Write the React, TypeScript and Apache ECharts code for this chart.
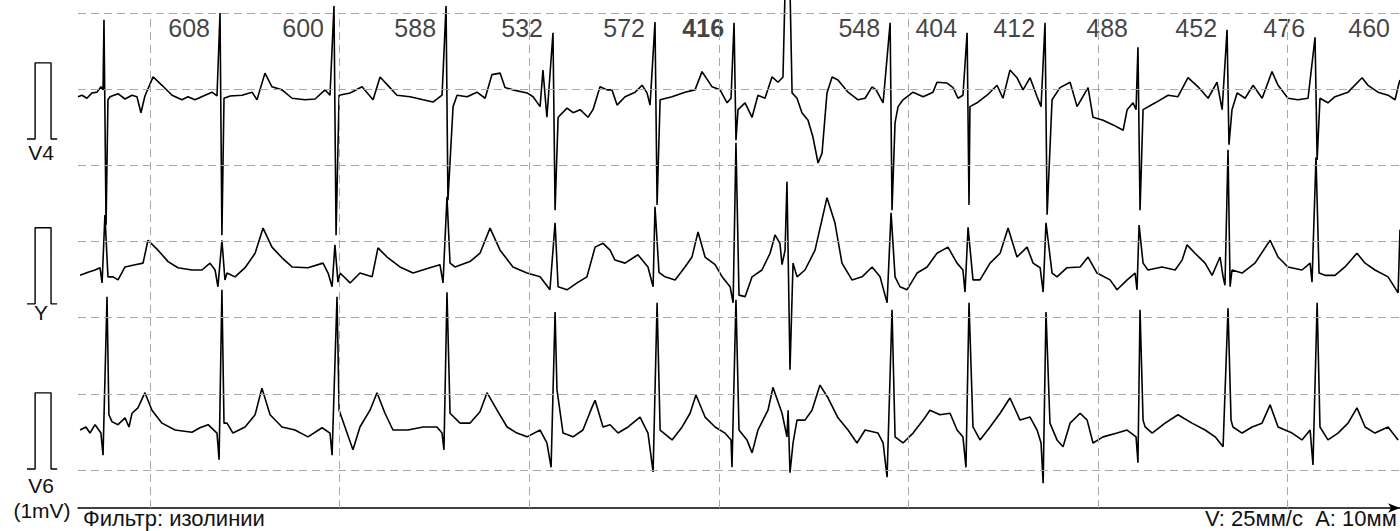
import React, { useEffect, useRef } from "react";
import * as echarts from "echarts";

// ---- data (time in ms from the left edge of the strip, amplitude in mV relative to the lead baseline)
const LEAD_V4: [number, number][] = [
  [0,-0.01],[21,0.01],[47,-0.03],[74,0.04],[100,0.05],[121,0.12],[132,0.08],[137,1.0],[148,-1.69],[158,-0.05],[169,-0.01],[211,0.03],[248,-0.04],[285,0.01],[311,-0.01],[332,-0.22],[353,0],[396,0.25],[443,0.14],[496,0.01],[548,-0.05],[580,-0.01],[617,-0.05],[670,0.01],[707,0.05],[733,0],
  [749,1.09],[759,-1.83],[770,-0.03],[802,0],[865,0.01],[918,0.05],[944,-0.05],[986,0.30],[1023,0.12],[1076,0.08],[1129,-0.03],[1197,-0.05],[1250,-0.04],[1303,0.08],[1329,0.01],
  [1350,1.18],[1361,-1.83],[1377,0.01],[1435,0.04],[1498,0.12],[1556,-0.05],[1593,0.25],[1645,0.11],[1682,0.01],[1751,-0.01],[1820,-0.05],[1872,-0.08],[1920,0.01],
  [1941,1.18],[1951,-1.37],[1978,-0.14],[1999,0.01],[2052,-0.01],[2104,0.05],[2147,-0.03],[2183,0.28],[2226,0.30],[2252,0.11],[2294,0.08],[2368,0.04],[2400,-0.01],[2437,-0.14],[2452,0.34],[2473,-0.28],
  [2505,0.83],[2516,-1.50],[2532,-0.28],[2579,-0.16],[2611,-0.22],[2648,-0.18],[2690,-0.28],[2716,-0.18],[2753,0.12],[2790,0.08],[2816,0.08],[2843,-0.12],[2885,-0.01],[2938,0.05],[2975,0.14],[3001,0.04],[3017,-0.12],
  [3043,0.97],[3054,-1.43],[3070,-0.05],[3133,-0.01],[3201,0.05],[3254,0.08],[3291,0.32],[3344,0.12],[3386,0.08],[3423,-0.09],[3444,-0.03],
  [3460,0.96],[3470,-0.58],[3481,-0.18],[3518,-0.09],[3555,-0.28],[3586,0.01],[3623,-0.03],[3660,0.25],[3692,0.18],[3718,0.25],
  [3729,1.4],[3755,1.4],[3766,0.04],[3792,-0.03],[3818,-0.22],[3850,-0.32],[3876,-0.54],[3903,-0.88],[3924,-0.75],[3950,0.04],[3977,0.25],[4008,0.21],[4061,0.05],[4114,-0.05],[4151,-0.03],[4188,0.12],[4209,0.08],[4246,-0.09],
  [4283,0.96],[4293,-1.50],[4309,-0.35],[4325,-0.14],[4351,-0.05],[4404,0.05],[4457,-0.01],[4509,0.05],[4530,0.18],[4583,0.17],[4615,0.11],[4641,-0.03],[4667,0.01],
  [4689,0.83],[4699,-1.43],[4704,-0.14],[4741,-0.09],[4794,0.01],[4847,0.14],[4878,-0.03],[4915,0.34],[4952,0.24],[4984,0.08],[5021,0.24],[5058,-0.01],[5079,-0.14],
  [5100,0.96],[5111,-1.56],[5137,-0.05],[5179,0.11],[5232,0.18],[5269,-0.14],[5327,0.11],[5353,-0.28],[5406,-0.32],[5459,-0.38],[5512,-0.45],[5533,-0.18],[5564,-0.09],[5580,-0.18],
  [5590,0.64],[5601,-1.50],[5617,-0.18],[5681,-0.09],[5749,0.01],[5801,-0.01],[5854,0.24],[5907,0.12],[5960,-0.03],[6007,0.18],[6034,-0.18],
  [6060,0.87],[6070,-0.64],[6086,-0.18],[6113,0.04],[6155,-0.03],[6197,0.14],[6245,-0.03],[6297,0.32],[6329,0.14],[6381,-0.03],[6434,-0.05],[6487,-0.03],
  [6524,0.77],[6535,-0.84],[6550,-0.03],[6592,-0.09],[6629,-0.01],[6698,0.05],[6772,0.24],[6803,0.14],[6856,0.05],[6909,0.01],[6946,-0.05],[6962,0.12],[6972,0.21],
];

const LEAD_Y: [number, number][] = [
  [11,-0.07],[53,-0.03],[90,0],[116,0.03],[127,-0.17],[142,0.72],[158,-0.09],[185,-0.09],[211,-0.13],[248,0.04],[301,0.07],[343,0.09],[369,0.39],[422,0.26],[475,0.11],[527,0.03],[601,0],[654,0],[696,0.09],[723,0],[738,-0.22],
  [759,0.39],[775,-0.13],[786,-0.04],[828,-0.09],[881,0.03],[934,0.22],[976,0.55],[1023,0.30],[1076,0.16],[1129,0.04],[1213,0.03],[1292,0.09],[1319,-0.04],[1340,-0.22],
  [1355,0.33],[1371,-0.16],[1382,-0.04],[1435,-0.17],[1487,-0.04],[1551,-0.09],[1582,0.29],[1630,0.17],[1698,0.04],[1767,-0.04],[1856,0.03],[1909,0.07],[1925,-0.17],
  [1946,0.96],[1962,0.09],[1988,0.04],[2067,0.11],[2120,0.22],[2173,0.55],[2226,0.26],[2294,0.04],[2368,-0.04],[2437,-0.09],[2489,-0.26],
  [2516,0.62],[2532,-0.22],[2579,-0.26],[2632,-0.17],[2684,-0.09],[2727,0.30],[2769,0.35],[2806,0.26],[2832,0.13],[2885,0.09],[2953,0.20],[3006,0.04],[3033,-0.22],
  [3043,0.83],[3064,-0.03],[3096,-0.09],[3149,-0.13],[3201,0.04],[3238,0.17],[3270,0.50],[3307,0.17],[3360,0.07],[3397,-0.09],[3439,-0.22],[3455,-0.43],
  [3470,1.67],[3486,-0.33],[3518,-0.35],[3555,-0.09],[3607,0],[3650,0.22],[3676,0.46],[3702,0.35],[3713,0.07],[3729,0.26],
  [3739,1.16],[3755,-1.31],[3771,0.09],[3792,-0.09],[3834,0],[3887,0.26],[3950,0.95],[3992,0.62],[4029,0.09],[4082,-0.13],[4135,-0.09],[4188,0.04],[4230,-0.09],[4267,-0.43],
  [4288,0.75],[4309,-0.09],[4335,-0.22],[4372,-0.26],[4425,-0.04],[4478,0.04],[4530,0.22],[4588,0.30],[4636,0.09],[4667,0],[4678,-0.29],
  [4694,0.56],[4720,-0.13],[4757,-0.13],[4810,0.09],[4863,0.22],[4905,0.55],[4952,0.17],[5005,0.30],[5037,0.09],[5074,0.03],[5090,-0.29],
  [5105,0.62],[5137,-0.04],[5163,-0.09],[5216,0.03],[5285,0.04],[5327,0.17],[5374,-0.04],[5443,-0.13],[5480,-0.26],[5533,-0.13],[5575,-0.04],[5585,-0.26],
  [5596,0.59],[5617,0.09],[5643,0],[5717,0.04],[5786,0],[5823,0.13],[5849,0.33],[5891,0.22],[5944,0.09],[5981,-0.07],[6023,0.17],[6039,-0.09],[6049,-0.20],
  [6065,1.58],[6076,-0.22],[6086,0],[6139,-0.04],[6207,0.09],[6287,0.39],[6329,0.17],[6381,0.04],[6455,0],[6498,0.09],[6508,-0.16],
  [6529,1.48],[6545,-0.04],[6577,-0.07],[6629,-0.07],[6682,0.04],[6745,0.22],[6788,0.09],[6840,0],[6909,-0.09],[6962,-0.30],[6972,0.53],
];

const LEAD_V6: [number, number][] = [
  [11,0],[42,0.04],[63,-0.04],[90,0.07],[121,-0.04],[132,-0.33],[153,1.75],[163,0.20],[179,0.11],[211,0.07],[248,0.16],[269,0.04],[285,0.22],[316,0.29],[353,0.49],[390,0.26],[443,0.09],[512,0],[601,-0.03],[643,0.03],[686,0.07],[733,-0.04],[744,-0.39],
  [759,1.84],[770,0.09],[786,0.09],[817,-0.04],[881,0.04],[934,0.20],[970,0.55],[1013,0.20],[1076,0.04],[1144,0],[1213,-0.09],[1287,0.03],[1329,-0.04],[1340,-0.33],
  [1366,1.75],[1377,0.26],[1408,0.04],[1450,-0.26],[1487,0.04],[1540,0.26],[1577,0.49],[1619,0.22],[1661,0],[1740,0],[1820,0.04],[1893,0.04],[1920,-0.04],[1930,-0.26],
  [1946,1.81],[1962,0.22],[2015,0.09],[2067,0.09],[2120,0.24],[2157,0.49],[2210,0.26],[2263,0.04],[2315,-0.04],[2368,-0.09],[2437,0],[2473,-0.17],[2495,-0.49],
  [2516,1.55],[2526,0.53],[2558,-0.04],[2611,-0.09],[2663,0],[2711,0.30],[2727,0.39],[2769,0.04],[2806,0.07],[2848,-0.04],[2901,0.04],[2964,0.17],[3006,-0.04],[3033,-0.55],
  [3054,1.67],[3070,0],[3133,-0.13],[3186,0.04],[3228,0.22],[3259,0.46],[3307,0.17],[3360,0.04],[3412,-0.04],[3444,-0.13],[3449,-0.49],
  [3470,1.71],[3486,0],[3528,-0.13],[3555,-0.30],[3586,0],[3639,0.26],[3665,0.56],[3713,0.22],[3739,-0.09],[3745,0.26],[3755,-0.56],[3771,-0.17],[3792,0.13],[3834,0.13],[3871,0.26],[3913,0.59],[3956,0.42],[4008,0.16],[4061,0],[4108,-0.17],[4151,0],[4219,-0.04],[4246,-0.17],[4267,-0.62],
  [4293,1.58],[4309,-0.09],[4351,-0.17],[4404,-0.04],[4457,0.13],[4493,0.26],[4546,0.20],[4599,0.22],[4636,0],[4667,-0.09],[4683,-0.49],
  [4699,1.67],[4720,0.04],[4757,-0.13],[4810,0.04],[4863,0.22],[4915,0.42],[4968,0.13],[5021,0.17],[5058,0],[5079,-0.17],[5090,-0.70],
  [5105,1.55],[5126,0.09],[5163,-0.13],[5195,-0.22],[5232,0.09],[5285,0.22],[5322,0.13],[5353,-0.17],[5406,-0.09],[5480,-0.04],[5533,0],[5580,-0.09],[5590,-0.43],
  [5601,1.58],[5617,0.13],[5628,0.04],[5665,-0.04],[5733,0.09],[5801,0.20],[5875,0.09],[5944,0],[5997,-0.09],[6039,-0.22],
  [6065,1.60],[6081,0.13],[6091,0.04],[6139,-0.04],[6192,0.04],[6244,0.09],[6287,0.33],[6329,0.04],[6403,-0.04],[6455,-0.13],[6498,0],[6513,-0.46],
  [6535,1.67],[6550,0.04],[6592,-0.13],[6645,-0.04],[6698,0.09],[6745,0.29],[6788,0.04],[6840,-0.04],[6909,0.04],[6962,-0.13],
];

const LEAD_NAMES = ["V4", "Y", "V6"];
const LEAD_BASELINE_MV = [5.41, 3.125, 1.024];
const CAL_BASELINE_MV = [4.845, 2.68, 0.512];
const CAL_PULSE: [number, number][] = [[142, 0], [185, 0], [185, 1], [269, 1], [269, 0], [301, 0]];

const RR_MS = [608, 600, 588, 532, 572, 416, 548, 404, 412, 488, 452, 476, 460];
const RR_HIGHLIGHT = [false, false, false, false, false, true, false, false, false, false, false, false, false];
const RR_END_BEAT_MS = [749, 1350, 1941, 2505, 3043, 3460, 4283, 4689, 5100, 5590, 6060, 6524, 6972];

const SECOND_MARKS_MS = [380, 1380, 2380, 3380, 4380, 5380, 6380];
const MV_MARKS = [0.5, 1.5, 2.5, 3.5, 4.5, 5.5, 6.5];

const X_MAX_MS = 6972;
const CAL_X_MAX_MS = 411;
const Y_MAX_MV = 6.67;
const RR_LABEL_MV = 6.3;

const FILTER_TEXT = "Фильтр: изолинии";
const SCALE_TEXT = "V: 25мм/с  A: 10мм";

const FONT = '"Liberation Sans", Arial, sans-serif';
const TEXT_COLOR = "#111";

export default function App() {
  const ref = useRef<HTMLDivElement>(null);
  useEffect(() => {
    if (!ref.current) return;
    const chart = echarts.init(ref.current, undefined, { renderer: "svg" });
    const leads = [LEAD_V4, LEAD_Y, LEAD_V6];

    const leadSeries = leads.map((d, i) => ({
      type: "line",
      name: LEAD_NAMES[i],
      xAxisIndex: 0,
      yAxisIndex: 0,
      data: d.map(([t, v]) => [t, v + LEAD_BASELINE_MV[i]]),
      showSymbol: false,
      symbol: "none",
      clip: true,
      z: 3,
      lineStyle: { color: "#000", width: 1.6 },
      silent: true,
    }));

    const calSeries = CAL_BASELINE_MV.map((b) => ({
      type: "line",
      xAxisIndex: 1,
      yAxisIndex: 1,
      data: CAL_PULSE.map(([t, v]) => [t, v + b]),
      showSymbol: false,
      symbol: "none",
      z: 3,
      lineStyle: { color: "#000", width: 1.4 },
      silent: true,
    }));

    const gridLineStyle = { color: "#a8a8a8", width: 1, type: [8, 5] };

    const option: any = {
      animation: false,
      backgroundColor: "#fff",
      grid: [
        { left: 78, right: 0, top: 0, bottom: 23 },
        { left: 0, width: 78, top: 0, bottom: 23 },
      ],
      xAxis: [
        {
          type: "value",
          gridIndex: 0,
          min: 0,
          max: X_MAX_MS,
          axisLine: {
            show: true,
            onZero: false,
            lineStyle: { color: "#000", width: 1.5 },
            symbol: ["none", "arrow"],
            symbolSize: [7, 12],
          },
          axisTick: { show: false },
          axisLabel: { show: false },
          splitLine: { show: false },
        },
        { type: "value", gridIndex: 1, min: 0, max: CAL_X_MAX_MS, show: false },
      ],
      yAxis: [
        { type: "value", gridIndex: 0, min: 0, max: Y_MAX_MV, show: false, splitLine: { show: false } },
        { type: "value", gridIndex: 1, min: 0, max: Y_MAX_MV, show: false, splitLine: { show: false } },
      ],
      series: [
        {
          type: "line",
          xAxisIndex: 0,
          yAxisIndex: 0,
          data: [],
          z: 1,
          silent: true,
          markLine: {
            silent: true,
            symbol: "none",
            label: { show: false },
            lineStyle: gridLineStyle,
            data: [
              ...SECOND_MARKS_MS.map((t) => [{ coord: [t, 0] }, { coord: [t, MV_MARKS[MV_MARKS.length - 1]] }]),
              ...MV_MARKS.map((v) => ({ yAxis: v })),
            ],
          },
        },
        ...leadSeries,
        ...calSeries,
        {
          type: "scatter",
          xAxisIndex: 0,
          yAxisIndex: 0,
          symbolSize: 0,
          z: 4,
          silent: true,
          data: RR_END_BEAT_MS.map((t, i) => ({
            value: [t, RR_LABEL_MV],
            rr: RR_MS[i],
            label: { fontWeight: RR_HIGHLIGHT[i] ? "bold" : "normal" },
          })),
          label: {
            show: true,
            position: "left",
            distance: 10,
            color: TEXT_COLOR,
            fontSize: 25,
            fontFamily: FONT,
            formatter: (p: any) => String(p.data.rr),
          },
        },
      ],
      graphic: [
        ...LEAD_NAMES.map((n, i) => ({
          type: "text",
          x: 41,
          y: [152, 312, 485][i],
          style: { text: n, font: `21px ${FONT}`, fill: TEXT_COLOR, align: "center", verticalAlign: "middle" },
        })),
        {
          type: "text",
          x: 42,
          y: 510,
          style: { text: "(1mV)", font: `21px ${FONT}`, fill: TEXT_COLOR, align: "center", verticalAlign: "middle" },
        },
        {
          type: "text",
          x: 83,
          y: 518,
          style: { text: FILTER_TEXT, font: `22px ${FONT}`, fill: TEXT_COLOR, align: "left", verticalAlign: "middle" },
        },
        {
          type: "text",
          x: 1205,
          y: 518,
          style: { text: SCALE_TEXT, font: `22px ${FONT}`, fill: TEXT_COLOR, align: "left", verticalAlign: "middle" },
        },
      ],
    };
    chart.setOption(option);
    return () => chart.dispose();
  }, []);
  return (
    <div
      ref={ref}
      style={{ position: "fixed", left: 0, top: 0, width: 1400, height: 531, background: "#fff" }}
    />
  );
}
